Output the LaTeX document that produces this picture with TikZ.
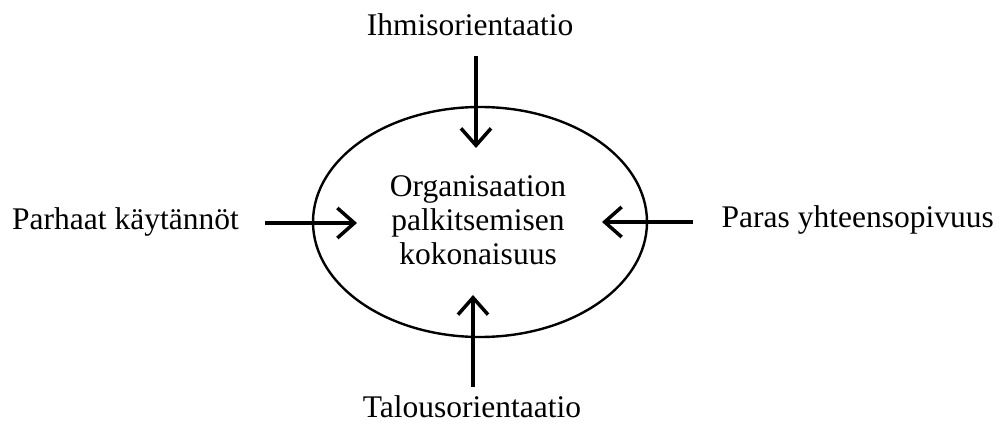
\documentclass[tikz,border=0pt]{standalone}
\usepackage{fontspec}
\setmainfont{Liberation Serif}
\usetikzlibrary{arrows.meta,shapes.geometric}
\begin{document}
\begin{tikzpicture}[x=1pt,y=-1pt,
  lbl/.style={font=\fontsize{31.5}{34}\selectfont, inner sep=0pt},
  arr/.style={line width=3.5pt, -{Straight Barb[length=17pt,width=30pt]}}]
\useasboundingbox (0,0) rectangle (1003,427);
\draw[line width=2.4pt] (480,222) ellipse [x radius=167, y radius=115];
\node[lbl, align=center] (org) at (478,220) {Organisaation\\palkitsemisen\\kokonaisuus};
\node[lbl] (top) at (470,25) {Ihmisorientaatio};
\node[lbl] (bot) at (472,407) {Talousorientaatio};
\node[lbl, anchor=west] (left) at (12,222) {Parhaat käytännöt};
\node[lbl, anchor=east] (right) at (994,220) {Paras yhteensopivuus};
\coordinate (ts) at (476,56); \coordinate (te) at (476,148);
\coordinate (bs) at (473,387); \coordinate (be) at (473,295);
\coordinate (ls) at (265,223); \coordinate (le) at (357,223);
\coordinate (rs) at (693,222); \coordinate (re) at (602,222);
\draw[arr] (ts) -- (te);
\draw[arr] (bs) -- (be);
\draw[arr] (ls) -- (le);
\draw[arr] (rs) -- (re);
\end{tikzpicture}
\end{document}
